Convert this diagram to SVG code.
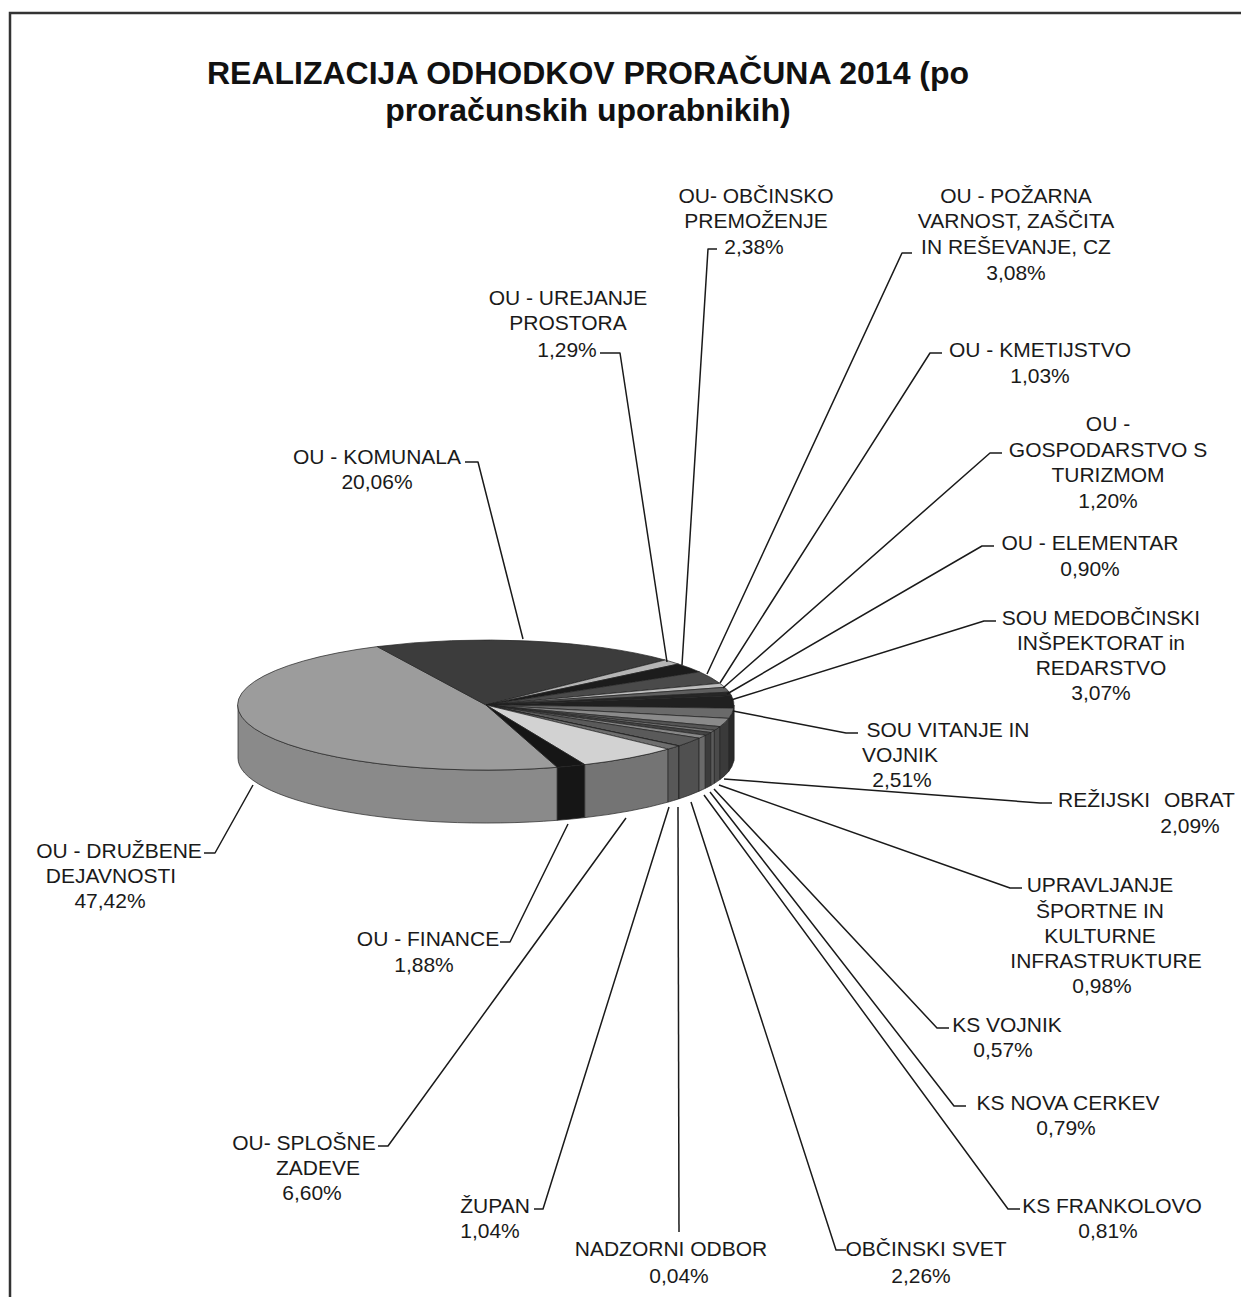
<svg xmlns="http://www.w3.org/2000/svg" width="1241" height="1297" viewBox="0 0 1241 1297">
<style>
.t{font-family:"Liberation Sans",Arial,sans-serif;font-size:21px;fill:#1a1a1a;text-anchor:middle}
.title{font-family:"Liberation Sans",Arial,sans-serif;font-size:32px;font-weight:bold;fill:#111;text-anchor:middle}
.ld{fill:none;stroke:#1a1a1a;stroke-width:1.5;stroke-linejoin:round}
.s{stroke:#222;stroke-width:0.7;stroke-linejoin:round}
</style>
<rect width="1241" height="1297" fill="#fff"/>
<path d="M10,1297 L10,13 L1241,13" fill="none" stroke="#333" stroke-width="2.5"/>
<g id="title">
<text class="title" x="588" y="84">REALIZACIJA ODHODKOV PRORAČUNA 2014 (po</text>
<text class="title" x="588" y="121">proračunskih uporabnikih)</text>
</g>
<g id="pie">
<g id="pie-sides">
<path class="s" fill="#8a8a8a" d="M557.3,767.3 A248,65 0 0 1 238,705 L238,758 A248,65 0 0 0 557.3,820.3 Z"/>
<path class="s" fill="#161616" d="M584.8,764.6 A248,65 0 0 1 557.3,767.3 L557.3,820.3 A248,65 0 0 0 584.8,817.6 Z"/>
<path class="s" fill="#747474" d="M668.1,749.1 A248,65 0 0 1 584.8,764.6 L584.8,817.6 A248,65 0 0 0 668.1,802.1 Z"/>
<path class="s" fill="#585858" d="M678.7,745.9 A248,65 0 0 1 668.1,749.1 L668.1,802.1 A248,65 0 0 0 678.7,798.9 Z"/>
<path class="s" fill="#888" d="M679.1,745.8 A248,65 0 0 1 678.7,745.9 L678.7,798.9 A248,65 0 0 0 679.1,798.8 Z"/>
<path class="s" fill="#505050" d="M699.1,738.2 A248,65 0 0 1 679.1,745.8 L679.1,798.8 A248,65 0 0 0 699.1,791.2 Z"/>
<path class="s" fill="#6a6a6a" d="M705.3,735.3 A248,65 0 0 1 699.1,738.2 L699.1,791.2 A248,65 0 0 0 705.3,788.3 Z"/>
<path class="s" fill="#3c3c3c" d="M710.8,732.5 A248,65 0 0 1 705.3,735.3 L705.3,788.3 A248,65 0 0 0 710.8,785.5 Z"/>
<path class="s" fill="#5a5a5a" d="M714.4,730.3 A248,65 0 0 1 710.8,732.5 L710.8,785.5 A248,65 0 0 0 714.4,783.3 Z"/>
<path class="s" fill="#4a4a4a" d="M719.9,726.6 A248,65 0 0 1 714.4,730.3 L714.4,783.3 A248,65 0 0 0 719.9,779.6 Z"/>
<path class="s" fill="#3a3a3a" d="M728.7,718.4 A248,65 0 0 1 719.9,726.6 L719.9,779.6 A248,65 0 0 0 728.7,771.4 Z"/>
<path class="s" fill="#2a2a2a" d="M733.7,708.2 A248,65 0 0 1 728.7,718.4 L728.7,771.4 A248,65 0 0 0 733.7,761.2 Z"/>
<path class="s" fill="#1a1a1a" d="M734,705 A248,65 0 0 1 733.7,708.2 L733.7,761.2 A248,65 0 0 0 734,758 Z"/>
</g>
<g id="pie-tops">
<path id="s-druzbene" class="s" fill="#9c9c9c" d="M486,705 L557.3,767.3 A248,65 0 0 1 377.3,646.6 Z"/>
<path id="s-komunala" class="s" fill="#3c3c3c" d="M486,705 L377.3,646.6 A248,65 0 0 1 665.1,660 Z"/>
<path id="s-urejanje" class="s" fill="#b5b5b5" d="M486,705 L665.1,660 A248,65 0 0 1 678.4,664 Z"/>
<path id="s-obcinsko" class="s" fill="#1c1c1c" d="M486,705 L678.4,664 A248,65 0 0 1 699.6,671.9 Z"/>
<path id="s-pozarna" class="s" fill="#4a4a4a" d="M486,705 L699.6,671.9 A248,65 0 0 1 719.8,683.3 Z"/>
<path id="s-kmetijstvo" class="s" fill="#bdbdbd" d="M486,705 L719.8,683.3 A248,65 0 0 1 724.7,687.3 Z"/>
<path id="s-gospodarstvo" class="s" fill="#5e5e5e" d="M486,705 L724.7,687.3 A248,65 0 0 1 729.1,692.1 Z"/>
<path id="s-elementar" class="s" fill="#262626" d="M486,705 L729.1,692.1 A248,65 0 0 1 731.5,695.7 Z"/>
<path id="s-medobcinski" class="s" fill="#202020" d="M486,705 L731.5,695.7 A248,65 0 0 1 733.7,708.2 Z"/>
<path id="s-vitanje" class="s" fill="#6a6a6a" d="M486,705 L733.7,708.2 A248,65 0 0 1 728.7,718.4 Z"/>
<path id="s-rezijski" class="s" fill="#8a8a8a" d="M486,705 L728.7,718.4 A248,65 0 0 1 719.9,726.6 Z"/>
<path id="s-upravljanje" class="s" fill="#555" d="M486,705 L719.9,726.6 A248,65 0 0 1 714.4,730.3 Z"/>
<path id="s-ksvojnik" class="s" fill="#777" d="M486,705 L714.4,730.3 A248,65 0 0 1 710.8,732.5 Z"/>
<path id="s-novacerkev" class="s" fill="#444" d="M486,705 L710.8,732.5 A248,65 0 0 1 705.3,735.3 Z"/>
<path id="s-frankolovo" class="s" fill="#888" d="M486,705 L705.3,735.3 A248,65 0 0 1 699.1,738.2 Z"/>
<path id="s-obcinskisvet" class="s" fill="#5a5a5a" d="M486,705 L699.1,738.2 A248,65 0 0 1 679.1,745.8 Z"/>
<path id="s-nadzorni" class="s" fill="#999" d="M486,705 L679.1,745.8 A248,65 0 0 1 678.7,745.9 Z"/>
<path id="s-zupan" class="s" fill="#6e6e6e" d="M486,705 L678.7,745.9 A248,65 0 0 1 668.1,749.1 Z"/>
<path id="s-splosne" class="s" fill="#d2d2d2" d="M486,705 L668.1,749.1 A248,65 0 0 1 584.8,764.6 Z"/>
<path id="s-finance" class="s" fill="#161616" d="M486,705 L584.8,764.6 A248,65 0 0 1 557.3,767.3 Z"/>
</g>
</g>
<g id="connectors">
<polyline class="ld" points="465,462 478,462 523,639"/>
<polyline class="ld" points="600,353 620,353 667,662"/>
<polyline class="ld" points="717,249 708,249 682,665"/>
<polyline class="ld" points="912,253 902,253 707,674"/>
<polyline class="ld" points="942,353 930,353 720,683"/>
<polyline class="ld" points="1002,453 990,453 723,688"/>
<polyline class="ld" points="994,546 982,546 727,694"/>
<polyline class="ld" points="996,621 984,621 731,700"/>
<polyline class="ld" points="858,733 846,733 733,711"/>
<polyline class="ld" points="1052,803 1040,803 724,779"/>
<polyline class="ld" points="1022,888 1010,888 719,785"/>
<polyline class="ld" points="949,1028 937,1028 714,789"/>
<polyline class="ld" points="966,1106 954,1106 710,792"/>
<polyline class="ld" points="1020,1209 1008,1209 704,795"/>
<polyline class="ld" points="846,1250 836,1250 691,802"/>
<polyline class="ld" points="678,807 679,1232"/>
<polyline class="ld" points="534,1209 543,1209 669,807"/>
<polyline class="ld" points="378,1146 388,1146 626,818"/>
<polyline class="ld" points="500,942 510,942 568,824"/>
<polyline class="ld" points="204,853 215,853 253,785"/>
</g>
<g id="label-komunala"><text class="t" x="377" y="464">OU - KOMUNALA</text><text class="t" x="377" y="489">20,06%</text></g>
<g id="label-urejanje"><text class="t" x="568" y="305">OU - UREJANJE</text><text class="t" x="568" y="330">PROSTORA</text><text class="t" x="567" y="357">1,29%</text></g>
<g id="label-obcinsko"><text class="t" x="756" y="203">OU- OBČINSKO</text><text class="t" x="756" y="228">PREMOŽENJE</text><text class="t" x="754" y="254">2,38%</text></g>
<g id="label-pozarna"><text class="t" x="1016" y="203">OU - POŽARNA</text><text class="t" x="1016" y="228">VARNOST, ZAŠČITA</text><text class="t" x="1016" y="254">IN REŠEVANJE, CZ</text><text class="t" x="1016" y="280">3,08%</text></g>
<g id="label-kmetijstvo"><text class="t" x="1040" y="357">OU - KMETIJSTVO</text><text class="t" x="1040" y="383">1,03%</text></g>
<g id="label-gospodarstvo"><text class="t" x="1108" y="431">OU -</text><text class="t" x="1108" y="457">GOSPODARSTVO S</text><text class="t" x="1108" y="482">TURIZMOM</text><text class="t" x="1108" y="508">1,20%</text></g>
<g id="label-elementar"><text class="t" x="1090" y="550">OU - ELEMENTAR</text><text class="t" x="1090" y="576">0,90%</text></g>
<g id="label-medobcinski"><text class="t" x="1101" y="625">SOU MEDOBČINSKI</text><text class="t" x="1101" y="650">INŠPEKTORAT in</text><text class="t" x="1101" y="675">REDARSTVO</text><text class="t" x="1101" y="700">3,07%</text></g>
<g id="label-vitanje"><text class="t" x="948" y="737">SOU VITANJE IN</text><text class="t" x="900" y="762">VOJNIK</text><text class="t" x="902" y="787">2,51%</text></g>
<g id="label-rezijski"><text class="t" x="1058" y="807" style="text-anchor:start;word-spacing:8px">REŽIJSKI OBRAT</text><text class="t" x="1190" y="833">2,09%</text></g>
<g id="label-upravljanje"><text class="t" x="1100" y="892">UPRAVLJANJE</text><text class="t" x="1100" y="918">ŠPORTNE IN</text><text class="t" x="1100" y="943">KULTURNE</text><text class="t" x="1106" y="968">INFRASTRUKTURE</text><text class="t" x="1102" y="993">0,98%</text></g>
<g id="label-ksvojnik"><text class="t" x="1007" y="1032">KS VOJNIK</text><text class="t" x="1003" y="1057">0,57%</text></g>
<g id="label-novacerkev"><text class="t" x="1068" y="1110">KS NOVA CERKEV</text><text class="t" x="1066" y="1135">0,79%</text></g>
<g id="label-frankolovo"><text class="t" x="1112" y="1213">KS FRANKOLOVO</text><text class="t" x="1108" y="1238">0,81%</text></g>
<g id="label-obcinskisvet"><text class="t" x="926" y="1256">OBČINSKI SVET</text><text class="t" x="921" y="1283">2,26%</text></g>
<g id="label-nadzorni"><text class="t" x="671" y="1256">NADZORNI ODBOR</text><text class="t" x="679" y="1283">0,04%</text></g>
<g id="label-zupan"><text class="t" x="495" y="1213">ŽUPAN</text><text class="t" x="490" y="1238">1,04%</text></g>
<g id="label-splosne"><text class="t" x="304" y="1150">OU- SPLOŠNE</text><text class="t" x="318" y="1175">ZADEVE</text><text class="t" x="312" y="1200">6,60%</text></g>
<g id="label-finance"><text class="t" x="428" y="946">OU - FINANCE</text><text class="t" x="424" y="972">1,88%</text></g>
<g id="label-druzbene"><text class="t" x="119" y="858">OU - DRUŽBENE</text><text class="t" x="111" y="883">DEJAVNOSTI</text><text class="t" x="110" y="908">47,42%</text></g>
</svg>
